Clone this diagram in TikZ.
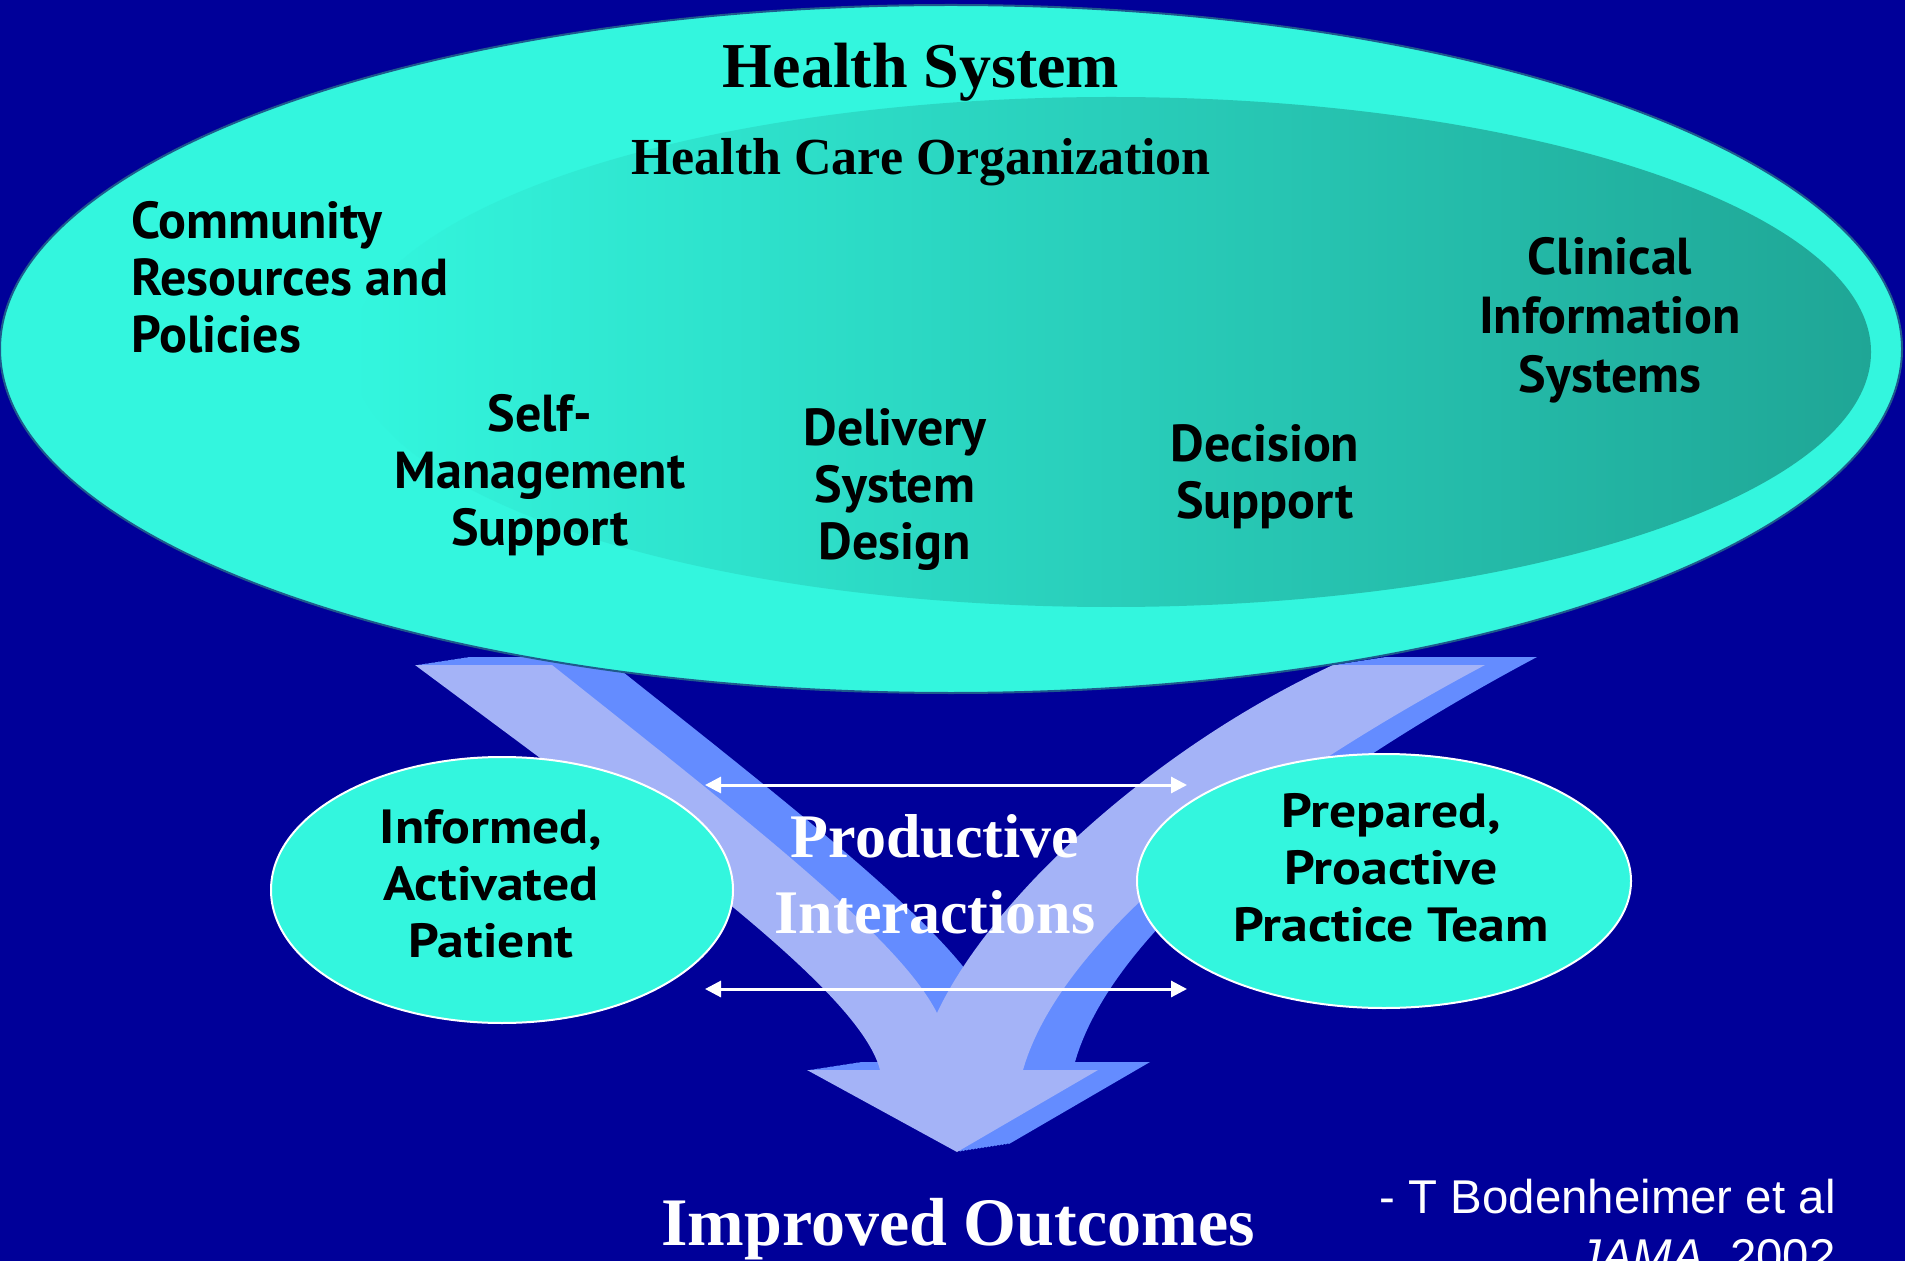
\documentclass[tikz,border=0pt]{standalone}
\usepackage{fontspec}
\setmainfont{Liberation Serif}
\newfontfamily\labelfont{PT Sans}
\newfontfamily\actorfont[FakeStretch=1.12]{PT Sans}
\newfontfamily\citefont{Liberation Sans}
\usetikzlibrary{arrows.meta,shapes.geometric}

\definecolor{bgblue}{RGB}{0,0,153}
\definecolor{aqua}{RGB}{51,246,222}
\definecolor{deepaqua}{RGB}{31,166,150}
\definecolor{arrowface}{RGB}{164,179,247}
\definecolor{arrowside}{RGB}{100,140,255}
\definecolor{rim}{RGB}{30,90,140}

\newcommand{\chevronpath}{(415,665) -- (552,665)
  .. controls (760,830) and (900,940) .. (937,1013)
  .. controls (990,900) and (1150,750) .. (1333,665)
  -- (1485,665)
  .. controls (1250,790) and (1060,940) .. (1023,1070)
  -- (1098,1070) -- (957,1152) -- (807,1070) -- (880,1070)
  .. controls (860,990) and (650,840) .. (415,665) -- cycle}

\begin{document}
\begin{tikzpicture}[x=0.5pt, y=-0.5pt,
  comp/.style={font=\labelfont\bfseries\fontsize{26}{28.5}\selectfont, align=center, inner sep=0pt},
  actor/.style={font=\actorfont\bfseries\fontsize{24}{28.5}\selectfont, align=center, inner sep=0pt},
  bubble/.style={ellipse, fill=aqua, draw=white, line width=1pt, inner sep=0pt},
  heading/.style={font=\bfseries\fontsize{#1}{#1}\selectfont, inner sep=0pt},
  flowtext/.style={font=\bfseries\fontsize{31}{38}\selectfont, text=white, align=center, inner sep=0pt},
  cite/.style={font=\citefont\fontsize{23.7}{29.5}\selectfont, text=white, inner sep=0pt},
  link/.style={white, line width=1.5pt, {Triangle[length=8pt,width=8pt]}-{Triangle[length=8pt,width=8pt]}}]

\useasboundingbox (0,0) rectangle (1905,1261);
\clip (0,0) rectangle (1905,1261);
\fill[bgblue] (0,0) rectangle (1905,1261);

\foreach \k in {1,...,16}
  \fill[arrowside, shift={({\k*52/16},{-\k*8/16})}] \chevronpath;
\fill[arrowface] \chevronpath;

\node[ellipse, fill=aqua, draw=rim, line width=1pt, inner sep=0pt,
  minimum width=951pt, minimum height=344pt] (system) at (951,349) {};
\node[ellipse, left color=aqua, right color=deepaqua, inner sep=0pt,
  minimum width=760pt, minimum height=255pt] (org) at (1111,352) {};

\node[bubble, minimum width=231pt, minimum height=133pt] (patient) at (502,890) {};
\node[bubble, minimum width=247pt, minimum height=127pt] (team) at (1384,881) {};

\coordinate (ia1) at (705,785);
\coordinate (ia2) at (1187,785);
\coordinate (ib1) at (705,989);
\coordinate (ib2) at (1187,989);
\draw[link] (ia1) -- (ia2);
\draw[link] (ib1) -- (ib2);

\node[heading=32, anchor=base] (hstitle) at (921,88) {Health System};
\node[heading=26, anchor=base] (hcotitle) at (921,175) {Health Care Organization};

\node[comp, anchor=west, align=left] (community) at (131,277) {Community\\Resources and\\Policies};
\node[comp] (selfmgmt) at (540,475) {Self-\\Management\\Support};
\node[comp] (delivery) at (895,490) {Delivery\\System\\Design};
\node[comp] (decision) at (1265,477) {Decision\\Support};
\node[comp, font=\labelfont\bfseries\fontsize{26}{29.5}\selectfont] (clinical) at (1610,320) {Clinical\\Information\\Systems};

\node[actor] (patienttxt) at (491,884) {Informed,\\Activated\\Patient};
\node[actor] (teamtxt) at (1391,868) {Prepared,\\Proactive\\Practice Team};

\node[flowtext] (interact) at (935,874) {Productive\\Interactions};
\node[heading=34, text=white, anchor=base] (outcome) at (958,1245) {Improved Outcomes};

\node[cite, anchor=base east] (author) at (1836,1213) {- T Bodenheimer et al};
\node[cite, anchor=base east] (journal) at (1836,1272) {{\itshape JAMA}, 2002};

\end{tikzpicture}
\end{document}
